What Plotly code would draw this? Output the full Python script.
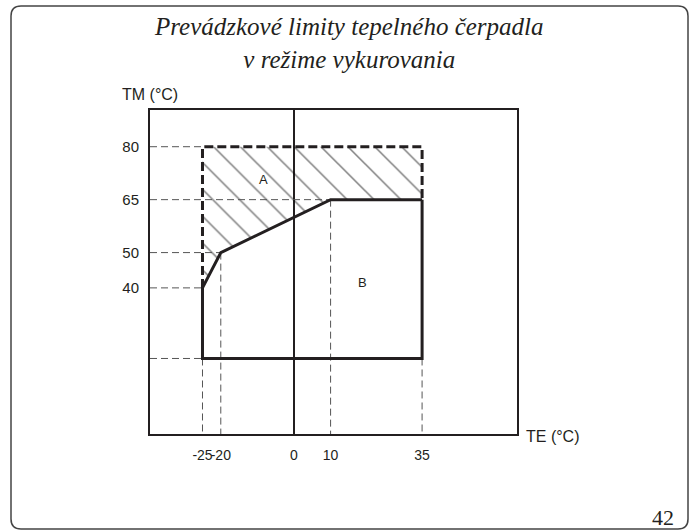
import plotly.graph_objects as go

# Operating limits of the heat pump in heating mode
# TE = outdoor temperature (°C), TM = flow temperature (°C)

# Region A (hatched): extended range, bounded by a dashed line
a_te = [-25, -25, 35, 35, 10, -20, -25]
a_tm = [40, 80, 80, 65, 65, 50, 40]

# Dashed upper boundary of region A
dash_te = [-25, -25, 35, 35]
dash_tm = [40, 80, 80, 65]

# Region B (solid outline): standard operating envelope
b_te = [35, 10, -20, -25, -25, 35, 35]
b_tm = [65, 65, 50, 40, 20, 20, 65]

# Axis ticks
te_ticks = [-25, -20, 0, 10, 35]
te_labels = ["-25", "-20", "0", "10", "35"]
tm_ticks = [40, 50, 65, 80]
tm_labels = ["40", "50", "65", "80"]

# Reference guides: (TM level, TE where the guide ends) and (TE, TM where it starts)
h_guides = [(80, -25), (65, 10), (50, -20), (40, -25), (20, -25)]
v_guides = [(-25, 20), (-20, 50), (10, 65), (35, 20)]

TE_RANGE = [-39.34, 60.93]
TM_RANGE = [-1.4, 90.4]

# Plot area geometry (pixels)
W, H = 696, 530
PL, PT, PW, PH = 150, 110, 367, 324


def px(x):
    return (x - PL) / PW


def py(y):
    return (PT + PH - y) / PH


INK = "#231f20"
GUIDE = "#555555"
SANS = "Liberation Sans, Arial, sans-serif"
SERIF = "Liberation Serif, Times New Roman, serif"

fig = go.Figure()

# Hatched region A
fig.add_trace(go.Scatter(
    x=a_te, y=a_tm, mode="lines", fill="toself",
    fillcolor="rgba(0,0,0,0)",
    fillpattern=dict(shape="\\", size=19, solidity=0.08,
                     fgcolor="#000000", bgcolor="rgba(0,0,0,0)"),
    line=dict(width=0), hoverinfo="skip", showlegend=False,
))

# Thin dashed guide lines
gx, gy = [], []
for level, te_end in h_guides:
    gx += [TE_RANGE[0], te_end, None]
    gy += [level, level, None]
for te, tm_start in v_guides:
    gx += [te, te, None]
    gy += [tm_start, TM_RANGE[0], None]
fig.add_trace(go.Scatter(
    x=gx, y=gy, mode="lines",
    line=dict(color=GUIDE, width=1, dash="7px,4px"),
    hoverinfo="skip", showlegend=False,
))

# Thick dashed boundary of region A
fig.add_trace(go.Scatter(
    x=dash_te, y=dash_tm, mode="lines",
    line=dict(color=INK, width=3, dash="9px,4px"),
    hoverinfo="skip", showlegend=False,
))

# Solid outline of region B
fig.add_trace(go.Scatter(
    x=b_te, y=b_tm, mode="lines",
    line=dict(color=INK, width=3),
    hoverinfo="skip", showlegend=False,
))

# Rounded page frame (quadratic corners, paper coordinates)
L, T, R, B, r = 11, 6, 688, 529, 10
frame = (
    f"M {px(L + r)},{py(T)} L {px(R - r)},{py(T)} "
    f"Q {px(R)},{py(T)} {px(R)},{py(T + r)} "
    f"L {px(R)},{py(B - r)} Q {px(R)},{py(B)} {px(R - r)},{py(B)} "
    f"L {px(L + r)},{py(B)} Q {px(L)},{py(B)} {px(L)},{py(B - r)} "
    f"L {px(L)},{py(T + r)} Q {px(L)},{py(T)} {px(L + r)},{py(T)} Z"
)
fig.add_shape(type="path", path=frame, xref="paper", yref="paper",
              line=dict(color="#444444", width=1.5), layer="below")

annotations = [
    dict(text="<i>Prevádzkové limity tepelného čerpadla<br>v režime vykurovania</i>",
         x=px(349), y=py(43), xanchor="center", yanchor="middle",
         font=dict(family=SERIF, size=25, color=INK)),
    dict(text="TM (°C)", x=px(150), y=py(94), xanchor="center", yanchor="middle",
         font=dict(family=SANS, size=16, color=INK)),
    dict(text="TE (°C)", x=px(524), y=py(436), xanchor="left", yanchor="middle",
         font=dict(family=SANS, size=16, color=INK)),
    dict(text="42", x=px(663), y=py(517), xanchor="center", yanchor="middle",
         font=dict(family=SERIF, size=22, color=INK)),
]
for a in annotations:
    a.update(xref="paper", yref="paper", showarrow=False)

fig.add_annotation(text="A", x=-8.2, y=70.6, xref="x", yref="y", showarrow=False,
                   font=dict(family=SANS, size=13, color=INK))
fig.add_annotation(text="B", x=18.8, y=41.4, xref="x", yref="y", showarrow=False,
                   font=dict(family=SANS, size=13, color=INK))

fig.update_layout(
    width=W, height=H,
    margin=dict(l=PL, r=W - PL - PW, t=PT, b=H - PT - PH),
    paper_bgcolor="white", plot_bgcolor="white",
    annotations=list(fig.layout.annotations) + annotations,
    xaxis=dict(
        range=TE_RANGE, tickvals=te_ticks, ticktext=te_labels, tickangle=0,
        showgrid=False, zeroline=True, zerolinecolor=INK, zerolinewidth=2,
        showline=True, linecolor=INK, linewidth=2, mirror=True,
        ticks="", ticklabelstandoff=7,
        tickfont=dict(family=SANS, size=14, color=INK),
    ),
    yaxis=dict(
        range=TM_RANGE, tickvals=tm_ticks, ticktext=tm_labels,
        showgrid=False, zeroline=False,
        showline=True, linecolor=INK, linewidth=2, mirror=True,
        ticks="", ticklabelstandoff=6,
        tickfont=dict(family=SANS, size=15, color=INK),
    ),
    showlegend=False,
)

fig.write_html("out.html")
